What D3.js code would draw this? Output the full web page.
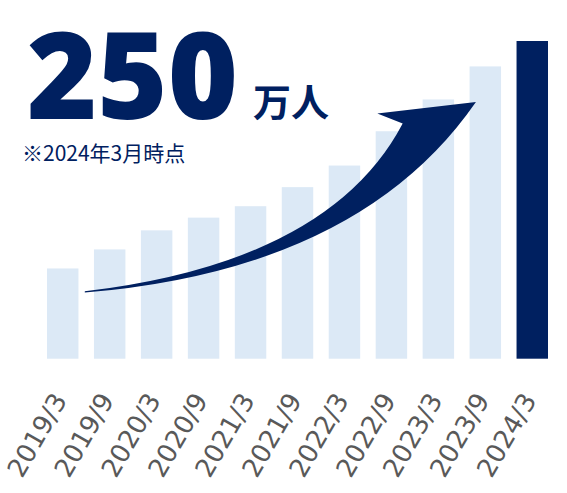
<!DOCTYPE html>
<html>
<head>
<meta charset="utf-8">
<script src="https://cdn.jsdelivr.net/npm/d3@7"></script>
<style>
  body { margin: 0; background: #fff; }
  svg { display: block; }
</style>
</head>
<body>
<script>
// Users over time (万人)
var categories = ["2019/3", "2019/9", "2020/3", "2020/9", "2021/3", "2021/9",
                  "2022/3", "2022/9", "2023/3", "2023/9", "2024/3"];
var values = [71, 86, 101, 111, 120, 135, 152, 179, 204, 230, 250];

// arrow outline in data space: [bar index, value]
var arrowUpper = [[0.47, 53], [5.69, 76], [7.24, 185]];   // tail -> control -> notch
var arrowHead = [[6.7, 193], [8.8, 202]];                  // barb, tip
var arrowLower = [[6.33, 70], [0.47, 52]];                 // control -> tail

var svgWidth = 567;
var svgHeight = 493;

var svg = d3.select("body")
  .append("svg")
  .attr("width", svgWidth)
  .attr("height", svgHeight);

var xScale = d3.scaleBand()
  .domain(categories)
  .range([47, 548])
  .paddingInner(0.33)
  .paddingOuter(0);

var yScale = d3.scaleLinear()
  .domain([0, 250])
  .range([358.7, 41]);

// index -> bar centre, for the arrow
var xIndex = d3.scaleLinear()
  .domain([0, categories.length - 1])
  .range([xScale(categories[0]) + xScale.bandwidth() / 2,
          xScale(categories[categories.length - 1]) + xScale.bandwidth() / 2]);

// bars
svg.append("g")
  .selectAll("rect")
  .data(values)
  .enter()
  .append("rect")
  .attr("x", (d, i) => xScale(categories[i]))
  .attr("y", d => yScale(d))
  .attr("width", xScale.bandwidth())
  .attr("height", d => yScale(0) - yScale(d))
  .attr("fill", (d, i) => i === values.length - 1 ? "#002060" : "#dce9f6");

// curved arrow
var pt = p => [xIndex(p[0]), yScale(p[1])];
var p = d3.path();
var a = pt(arrowUpper[0]), c1 = pt(arrowUpper[1]), n = pt(arrowUpper[2]);
var b = pt(arrowHead[0]), t = pt(arrowHead[1]);
var c2 = pt(arrowLower[0]), e = pt(arrowLower[1]);
p.moveTo(a[0], a[1]);
p.quadraticCurveTo(c1[0], c1[1], n[0], n[1]);
p.lineTo(b[0], b[1]);
p.lineTo(t[0], t[1]);
p.quadraticCurveTo(c2[0], c2[1], e[0], e[1]);
p.closePath();
svg.append("path")
  .attr("d", p.toString())
  .attr("fill", "#002060");

// x labels (slanted, a little right of each bar centre)
var xAxis = d3.axisBottom(xScale).tickSize(0).tickPadding(0);
var axisG = svg.append("g")
  .attr("transform", "translate(5,400)")
  .call(xAxis);
axisG.select(".domain").remove();
axisG.selectAll("text")
  .attr("y", 0)
  .attr("dy", 0)
  .attr("transform", "rotate(-60)")
  .style("text-anchor", "end")
  .style("font-family", "'DejaVu Sans', Verdana, sans-serif")
  .style("font-size", "26px")
  .attr("fill", "#595959");

// headline
svg.append("text")
  .attr("x", 27)
  .attr("y", 119)
  .style("font-family", "'Open Sans', sans-serif")
  .style("font-weight", 800)
  .style("font-size", "120px")
  .attr("fill", "#002060")
  .text("250");

svg.append("text")
  .attr("x", 253)
  .attr("y", 116)
  .style("font-family", "'Noto Sans CJK JP', sans-serif")
  .style("font-weight", 700)
  .style("font-size", "38px")
  .attr("fill", "#002060")
  .text("万人");

svg.append("text")
  .attr("x", 22)
  .attr("y", 161)
  .style("font-family", "'Noto Sans CJK JP', sans-serif")
  .style("font-size", "21px")
  .attr("fill", "#002060")
  .text("※2024年3月時点");
</script>
</body>
</html>
